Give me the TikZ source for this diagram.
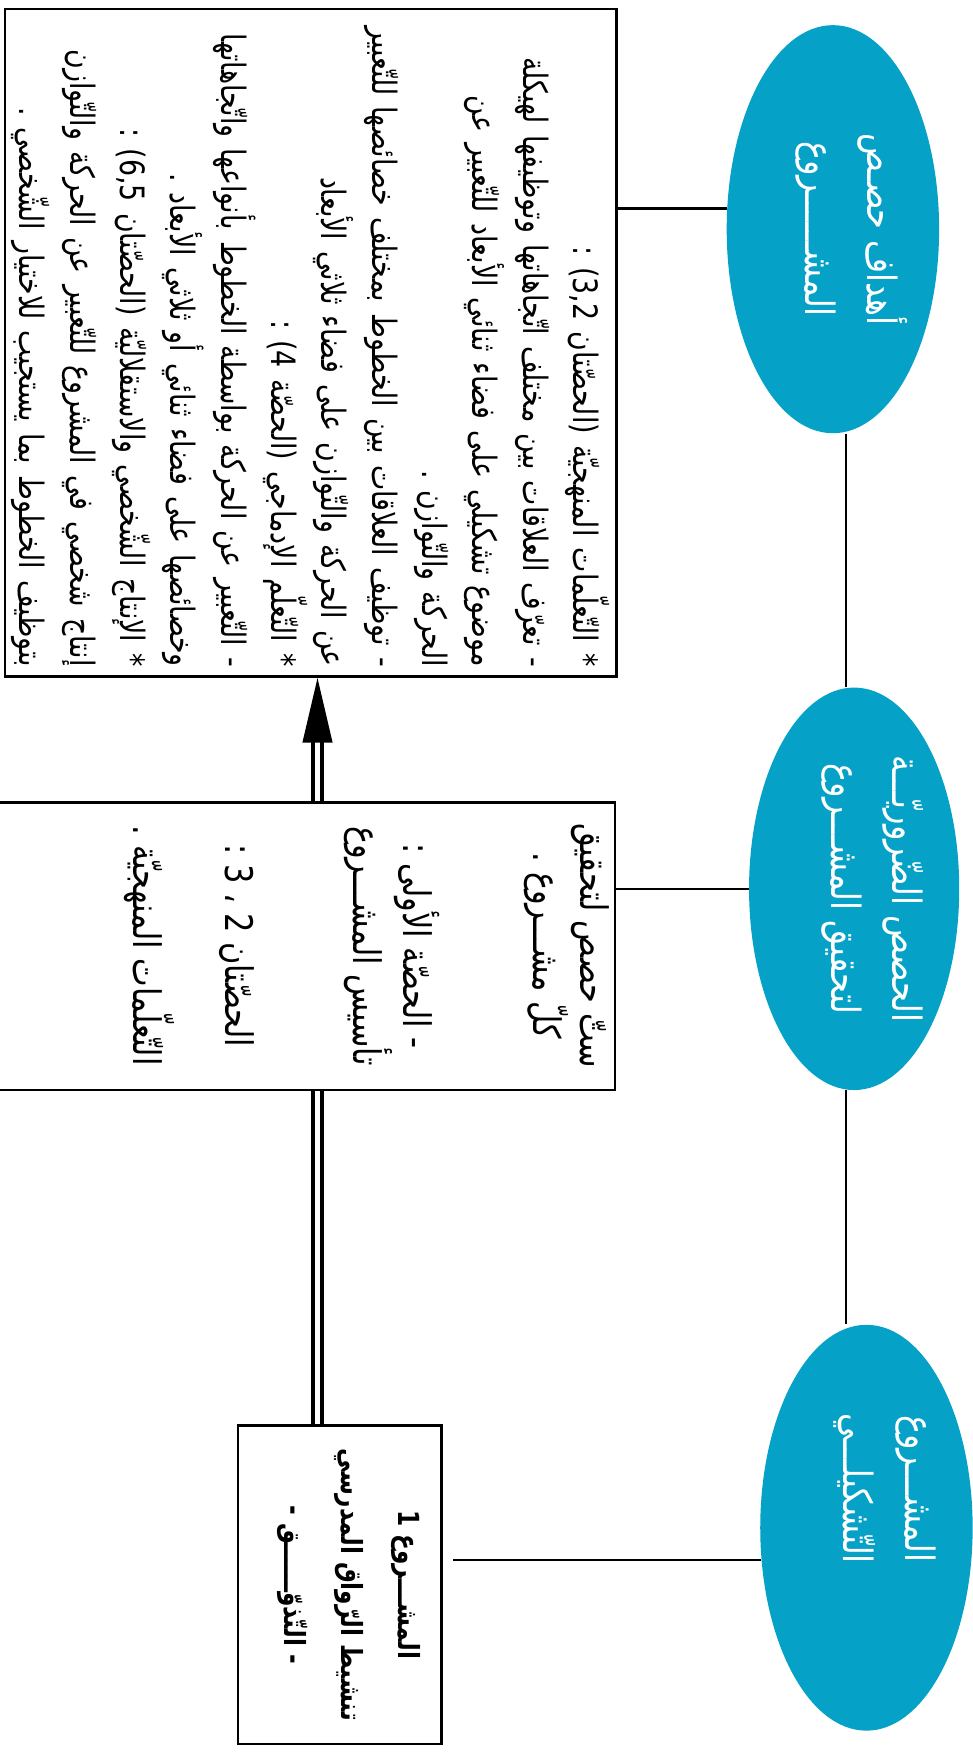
\documentclass[tikz,border=0pt]{standalone}
\usepackage{fontspec}
\usetikzlibrary{arrows.meta,shapes.geometric}
\newfontfamily\arabicfont[Script=Arabic,FakeStretch=0.8]{DejaVu Sans}
\TeXXeTstate=1
\definecolor{sky}{RGB}{5,161,198}
\newcommand{\rl}[1]{\beginR #1\endR}

\begin{document}
\begin{tikzpicture}[x=0.5pt,y=-0.5pt,
        frame/.style={draw,line width=1.2pt,rotate=-90,inner sep=3pt,font=\arabicfont\fontsize{15}{22.5}\selectfont},
        capsule/.style={ellipse,fill=sky,text=white,rotate=-90,align=center,inner sep=0pt,text depth=21pt,font=\arabicfont\fontsize{18}{27.5}\selectfont},
        link/.style={line width=1pt},
        twin/.style={double,double distance=2pt,line width=1.8pt}]
    \useasboundingbox (0,0) rectangle (870,1568);
    %% Boxes
    \node[frame,minimum width=298.5pt,minimum height=272pt,text width=290pt,align=right] (plan) at (278,306.5) {%
        \rl{* التّعلّمات المنهجيّة (الحصّتان 3,2) :}\\
        \rl{- تعرّف العلاقات بين مختلف اتّجاهاتها وتوظيفها لهيكلة}\\
        \rl{موضوع تشكيلي على فضاء ثنائي الأبعاد للتّعبير عن}\\
        \rl{الحركة والتّوازن .}\\
        \rl{- توظيف العلاقات بين الخطوط بمختلف خصائصها للتّعبير}\\
        \rl{عن الحركة والتّوازن على فضاء ثلاثي الأبعاد}\\
        \rl{* التّعلّم الإدماجي (الحصّة 4) :}\\
        \rl{- التّعبير عن الحركة بواسطة الخطوط بأنواعها واتّجاهاتها}\\
        \rl{وخصائصها على فضاء ثنائي أو ثلاثي الأبعاد .}\\
        \rl{* الإنتاج الشّخصي والاستقلاليّة (الحصّتان 6,5) :}\\
        \rl{إنتاج شخصي في المشروع للتّعبير عن الحركة والتّوازن}\\
        \rl{بتوظيف الخطوط بما يستجيب للاختيار الشّخصي .}};
    \node[frame,minimum width=128.5pt,minimum height=295pt] (sess) at (255,846.5) {};
    \node[rotate=-90,align=center,font=\arabicfont\fontsize{17}{21}\selectfont] (sesstext) at (328,846) {%
        \rl{ستّ حصص لتحقيق}\\
        \rl{كلّ مشـــروع .}\\[37pt]
        \rl{- الحصّة الأولى :}\\
        \rl{تأسيس المشـــروع}\\[36pt]
        \rl{الحصّتان 2 ، 3 :}\\[19pt]
        \rl{التّعلّمات المنهجيّة .}};
    \node[frame,minimum width=142.5pt,minimum height=91pt,align=center,text depth=11pt,font=\arabicfont\bfseries\fontsize{13}{25.5}\selectfont] (proj) at (304,1417.5) {%
        \rl{المشـــروع 1}\\
        \rl{تنشيط الرّواق المدرسي}\\
        \rl{- التّذوّــــــق -}};
    %% Ellipses
    \node[capsule,minimum width=182.5pt,minimum height=95pt] (goal) at (745,205) {\rl{أهداف حصـص}\\\rl{المشــــــروع}};
    \node[capsule,minimum width=180pt,minimum height=94pt] (need) at (764,795) {\rl{الحصص الضّروريّـــة}\\\rl{لتحقيق المشـــروع}};
    \node[capsule,minimum width=181.5pt,minimum height=95pt] (base) at (775,1366.5) {\rl{المشـــروع}\hspace*{35pt}\\\rl{التّشكيلـــي}\hspace*{35pt}};
    %% Connectors
    \coordinate (spine) at (757,0);
    \coordinate (shaft) at (284,0);
    \draw[link] (goal.east -| spine) -- (need.west -| spine);
    \draw[link] (need.east -| spine) -- (base.west -| spine);
    \draw[link] (goal.259) -- (goal.259 -| plan.north);
    \draw[link] (need.south) -- (need.south -| sess.north);
    \draw[link,shorten >=4.5pt] (base.287) -- (base.287 -| proj.north);
    \draw[twin] (proj.west -| shaft) -- (sess.east -| shaft);
    \draw[twin,-{Triangle[length=29pt,width=13pt]}] (sess.west -| shaft) -- (plan.east -| shaft);
\end{tikzpicture}
\end{document}
